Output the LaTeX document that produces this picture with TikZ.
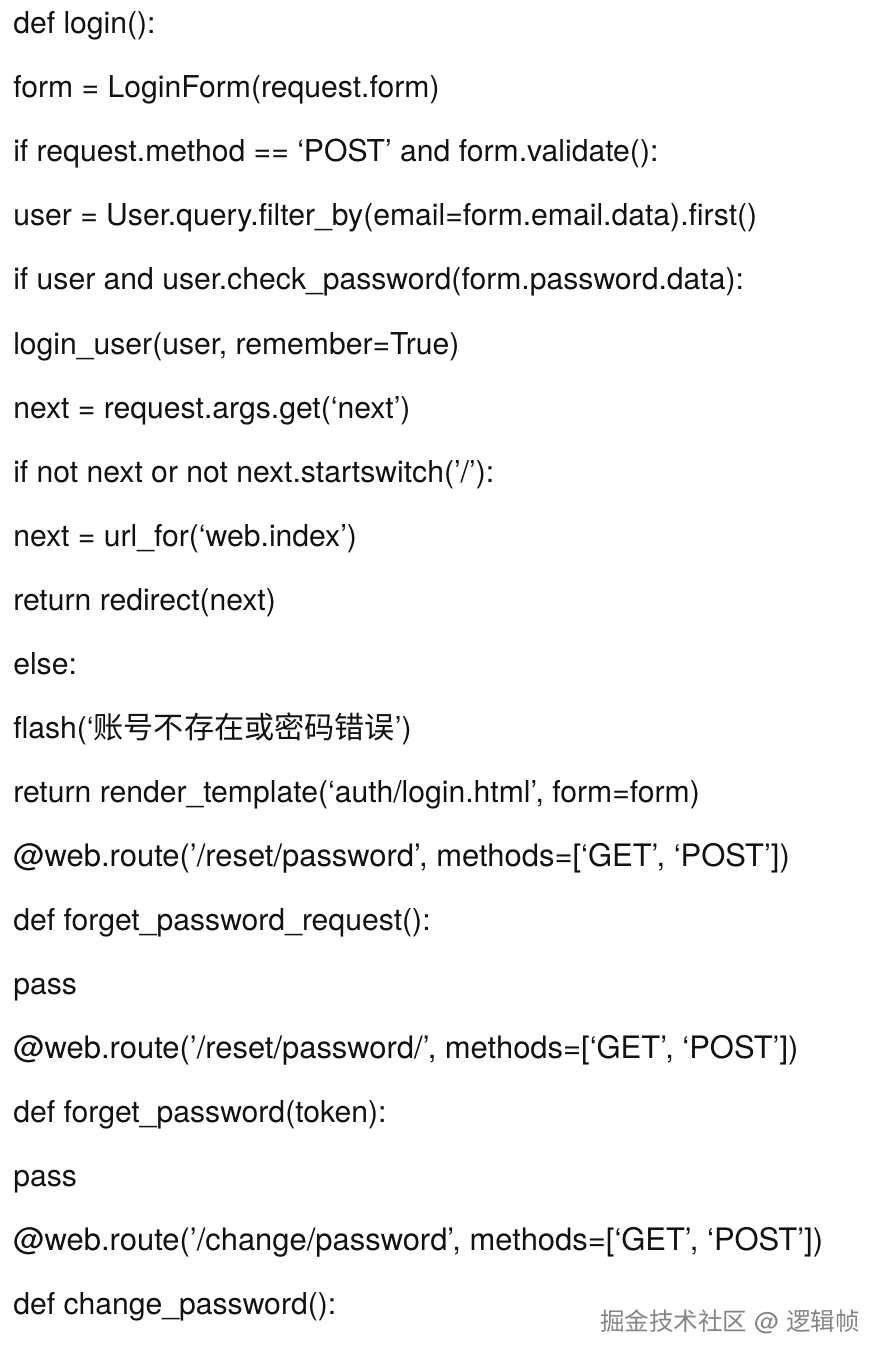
\documentclass[tikz,border=0pt]{standalone}
\usepackage{fontspec}
\setmainfont{TeX Gyre Heros}
\newfontfamily\cjkfont{Noto Sans CJK SC}
\usepackage{tikz}
\definecolor{codetext}{HTML}{111111}
\definecolor{watermark}{HTML}{858585}
\tikzset{codeline/.style={anchor=base west, inner sep=0pt, text=codetext, font=\fontsize{22.6}{26}\selectfont}}
\tikzset{routeline/.style={codeline, font=\fontsize{23.2}{26}\selectfont}}
\tikzset{markline/.style={anchor=base west, inner sep=0pt, text=watermark, font=\fontsize{18.4}{22}\selectfont}}

\begin{document}
\begin{tikzpicture}[x=0.75pt, y=-0.75pt]
            \useasboundingbox[fill=white] (0, 0) rectangle (888, 1362);
            \node[codeline] (l1) at (13, 34) {def login():};
            \node[codeline] (l2) at (13, 98) {form = LoginForm(request.form)};
            \node[codeline] (l3) at (13, 162) {if request.method == ‘POST’ and form.validate():};
            \node[codeline] (l4) at (13, 226) {user = User.query.filter\_by(email=form.email.data).first()};
            \node[codeline] (l5) at (13, 290) {if user and user.check\_password(form.password.data):};
            \node[codeline] (l6) at (13, 354) {login\_user(user, remember=True)};
            \node[codeline] (l7) at (13, 418) {next = request.args.get(‘next’)};
            \node[codeline] (l8) at (13, 482) {if not next or not next.startswitch(’/’):};
            \node[codeline] (l9) at (13, 546) {next = url\_for(‘web.index’)};
            \node[codeline] (l10) at (13, 610) {return redirect(next)};
            \node[codeline] (l11) at (13, 674) {else:};
            \node[codeline] (l12) at (13, 738) {flash(‘{\cjkfont 账号不存在或密码错误}’)};
            \node[codeline] (l13) at (13, 802) {return render\_template(‘auth/login.html’, form=form)};
            \node[routeline] (l14) at (13, 866) {@web.route(’/reset/password’, methods=[‘GET’, ‘POST’])};
            \node[codeline] (l15) at (13, 930) {def forget\_password\_request():};
            \node[codeline] (l16) at (13, 994) {pass};
            \node[routeline] (l17) at (13, 1058) {@web.route(’/reset/password/’, methods=[‘GET’, ‘POST’])};
            \node[codeline] (l18) at (13, 1122) {def forget\_password(token):};
            \node[codeline] (l19) at (13, 1186) {pass};
            \node[routeline] (l20) at (13, 1250) {@web.route(’/change/password’, methods=[‘GET’, ‘POST’])};
            \node[codeline] (l21) at (13, 1314) {def change\_password():};
            \node[markline] (mark) at (600, 1330) {{\cjkfont 掘金技术社区} @ {\cjkfont 逻辑帧}};
        \end{tikzpicture}
\end{document}
